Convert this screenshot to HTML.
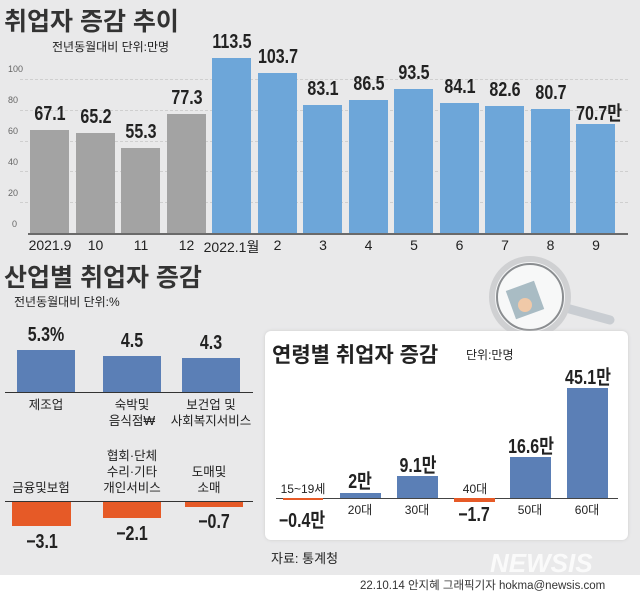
<!DOCTYPE html>
<html><head><meta charset="utf-8"><style>
*{margin:0;padding:0}
body{width:640px;height:594px;background:#e9e9ea;position:relative;overflow:hidden;font-family:"Liberation Sans","Noto Sans CJK KR",sans-serif;color:#222}
.a{position:absolute;white-space:nowrap}
.t{font-size:25px;font-weight:bold;color:#333}
.bar{position:absolute}
.v{position:absolute;font-size:20px;font-weight:bold;font-family:"Liberation Sans Narrow","Liberation Sans","Noto Sans CJK KR",sans-serif;transform:scaleX(0.8);text-align:center;width:60px;white-space:nowrap;color:#222}
.ax{position:absolute;font-size:14px;text-align:center;width:50px;white-space:nowrap}
.g{position:absolute;left:20px;width:608px;border-top:1px dashed #cfcfcf;height:0}
.yl{position:absolute;left:8px;font-size:9px;color:#666}
.lb{position:absolute;font-size:12.5px;text-align:center;line-height:16px}
</style></head><body>
<div class="a t" style="left:4px;top:2px">취업자 증감 추이</div>
<div class="a" style="left:52px;top:38px;font-size:12px">전년동월대비 단위:만명</div>

<div class="g" style="top:79px"></div><div class="g" style="top:110px"></div><div class="g" style="top:141px"></div><div class="g" style="top:171px"></div><div class="g" style="top:202px"></div>
<div class="yl" style="top:64px">100</div><div class="yl" style="top:95px">80</div><div class="yl" style="top:126px">60</div><div class="yl" style="top:157px">40</div><div class="yl" style="top:188px">20</div><div class="yl" style="top:219px;left:12px">0</div>

<div id="topc"></div>
<div style="position:absolute;left:28px;top:233px;width:600px;height:2px;background:#6a6a6a"></div>

<div class="a t" style="left:4px;top:258px">산업별 취업자 증감</div>
<div class="a" style="left:14px;top:293px;font-size:12px">전년동월대비 단위:%</div>

<div class="v" style="left:16px;top:324px;width:60px">5.3%</div>
<div class="bar" style="left:17px;top:350px;width:58px;height:42px;background:#5b7fb6"></div>
<div class="v" style="left:102px;top:330px">4.5</div>
<div class="bar" style="left:103px;top:356px;width:58px;height:36px;background:#5b7fb6"></div>
<div class="v" style="left:181px;top:332px">4.3</div>
<div class="bar" style="left:182px;top:358px;width:58px;height:34px;background:#5b7fb6"></div>
<div style="position:absolute;left:5px;top:392px;width:248px;height:1px;background:#333"></div>
<div class="lb" style="left:16px;top:397px;width:60px">제조업</div>
<div class="lb" style="left:92px;top:397px;width:80px">숙박및<br>음식점₩</div>
<div class="lb" style="left:166px;top:397px;width:90px">보건업 및<br>사회복지서비스</div>

<div class="lb" style="left:92px;top:448px;width:80px">협회·단체<br>수리·기타<br>개인서비스</div>
<div class="lb" style="left:6px;top:480px;width:70px">금융및보험</div>
<div class="lb" style="left:174px;top:464px;width:70px">도매및<br>소매</div>
<div style="position:absolute;left:5px;top:501px;width:248px;height:1px;background:#333"></div>
<div class="bar" style="left:12px;top:502px;width:59px;height:24px;background:#e65a27"></div>
<div class="bar" style="left:103px;top:502px;width:58px;height:16px;background:#e65a27"></div>
<div class="bar" style="left:185px;top:502px;width:58px;height:5px;background:#e65a27"></div>
<div class="v" style="left:12px;top:531px">−3.1</div>
<div class="v" style="left:102px;top:523px">−2.1</div>
<div class="v" style="left:184px;top:511px">−0.7</div>

<svg style="position:absolute;left:480px;top:250px" width="150" height="90">
<line x1="75" y1="55" x2="130" y2="70" stroke="#c9cdd2" stroke-width="9" stroke-linecap="round"/>
<circle cx="50" cy="47" r="38" fill="#f4f5f6" stroke="#cfd0d2" stroke-width="6"/>
<circle cx="50" cy="47" r="33" fill="#f7f8f8" stroke="#8a8d90" stroke-width="2"/>
<rect x="30" y="35" width="30" height="30" fill="#a9bcc4" transform="rotate(-20 45 50)"/>
<circle cx="45" cy="55" r="7" fill="#f0c9a8"/>
</svg>

<div style="position:absolute;left:265px;top:331px;width:363px;height:209px;background:#fff;border-radius:6px;box-shadow:0 0 3px #ccc"></div>
<div class="a" style="left:272px;top:339px;font-size:21px;font-weight:bold;color:#222">연령별 취업자 증감</div>
<div class="a" style="left:466px;top:346px;font-size:12px">단위:만명</div>
<div style="position:absolute;left:276px;top:498px;width:342px;height:1px;background:#444"></div>
<div class="bar" style="left:283px;top:498px;width:40px;height:2px;background:#e65a27"></div>
<div class="bar" style="left:340px;top:493px;width:41px;height:5px;background:#5b7fb6"></div>
<div class="bar" style="left:397px;top:476px;width:41px;height:22px;background:#5b7fb6"></div>
<div class="bar" style="left:454px;top:498px;width:41px;height:4px;background:#e65a27"></div>
<div class="bar" style="left:510px;top:457px;width:41px;height:41px;background:#5b7fb6"></div>
<div class="bar" style="left:567px;top:388px;width:41px;height:110px;background:#5b7fb6"></div>
<div class="lb" style="left:273px;top:481px;width:60px;font-size:12px">15~19세</div>
<div class="lb" style="left:445px;top:481px;width:60px;font-size:12px">40대</div>
<div class="lb" style="left:330px;top:502px;width:60px;font-size:12px">20대</div>
<div class="lb" style="left:387px;top:502px;width:60px;font-size:12px">30대</div>
<div class="lb" style="left:500px;top:502px;width:60px;font-size:12px">50대</div>
<div class="lb" style="left:557px;top:502px;width:60px;font-size:12px">60대</div>
<div class="v" style="left:267px;top:504px;width:70px">−0.4만</div>
<div class="v" style="left:330px;top:465px">2만</div>
<div class="v" style="left:387px;top:449px;width:62px">9.1만</div>
<div class="v" style="left:444px;top:504px">−1.7</div>
<div class="v" style="left:498px;top:430px;width:66px">16.6만</div>
<div class="v" style="left:555px;top:361px;width:66px">45.1만</div>

<div class="a" style="left:271px;top:548px;font-size:13px">자료: 통계청</div>
<div class="a" style="left:490px;top:548px;font-size:26px;font-weight:bold;font-style:italic;color:#fff;opacity:.8">NEWSIS</div>
<div style="position:absolute;left:0;top:575px;width:640px;height:19px;background:#fff"></div>
<div class="a" style="left:360px;top:577px;font-size:11.5px;color:#333">22.10.14 안지혜 그래픽기자 hokma@newsis.com</div>

<script>
(function(){
var vals=[67.1,65.2,55.3,77.3,113.5,103.7,83.1,86.5,93.5,84.1,82.6,80.7,70.7];
var labs=["2021.9","10","11","12","2022.1월","2","3","4","5","6","7","8","9"];
var h="";
for(var i=0;i<13;i++){var x=30+i*45.5;var ht=vals[i]*1.54;var ty=233-ht;
var c=i<4?"#a3a3a3":"#6da6d9";
h+='<div class="bar" style="left:'+x+'px;top:'+ty+'px;width:39px;height:'+ht+'px;background:'+c+'"></div>';
var t=vals[i].toFixed(1)+(i==12?'만':'');
h+='<div class="v" style="left:'+(x-10+(i==12?3:0))+'px;top:'+(ty-27)+'px">'+t+'</div>';
h+='<div class="ax" style="left:'+(x-5-(i==4?8:0))+'px;top:237px;width:'+(i==4?65:50)+'px">'+labs[i]+'</div>';}
document.getElementById('topc').innerHTML=h;
})();
</script>
</body></html>
